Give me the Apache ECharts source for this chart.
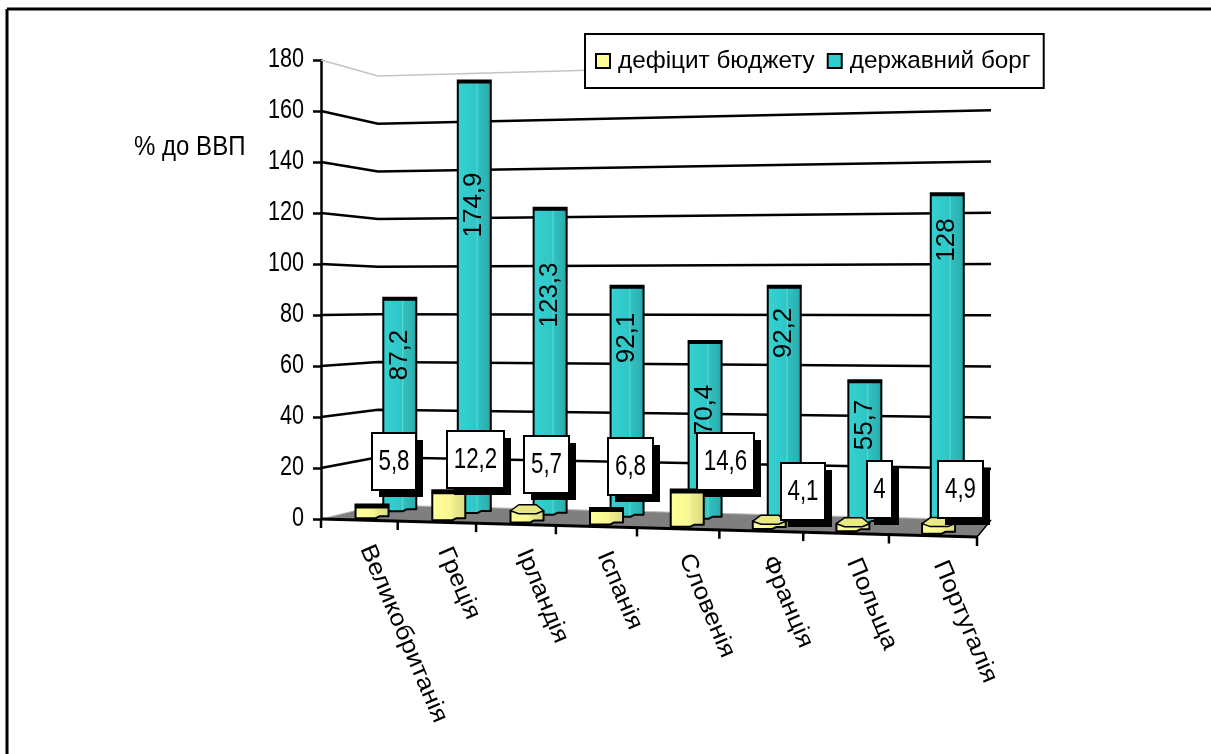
<!DOCTYPE html>
<html>
<head>
<meta charset="utf-8">
<style>html,body{margin:0;padding:0;background:#fff}#chart{width:1211px;height:754px}</style>
<script src="https://cdn.jsdelivr.net/npm/echarts@6/dist/echarts.min.js"></script>
</head>
<body>
<div id="chart"></div>
<script>
// Budget deficit and public debt by country, % of GDP
const categories = ['Великобританія', 'Греція', 'Ірландія', 'Іспанія', 'Словенія', 'Франція', 'Польща', 'Португалія'];
const deficit = [5.8, 12.2, 5.7, 6.8, 14.6, 4.1, 4, 4.9];
const debt = [87.2, 174.9, 123.3, 92.1, 70.4, 92.2, 55.7, 128];
const wallTicks = [0, 20, 40, 60, 80, 100, 120, 140, 160, 180];
const deficitName = 'дефіцит бюджету';
const debtName = 'державний борг';

// Hand-placed data label layout
const deficitBoxes = [[372, 433, 44], [447, 431, 57], [524, 436, 45], [608, 438, 45], [697, 433, 57], [781, 463, 44], [867, 461, 25], [938, 461, 45]];
const debtLabelY = [355, 205, 295, 338, 410, 333, 425, 240];

const FONT = '"Liberation Sans",Arial,sans-serif';
const GRID = { left: 321, top: 60, width: 656, height: 459 };

// Floor quad corners in screen space: front-left, front-right, back-right, back-left
const Q = [[321, 519], [977, 537], [991, 520], [378, 505]];
// Vertical scale at the same corners, relative to the value axis
const S = [1, 1.055, 1.004, 0.9345];

const hom = (() => {
  const sx = Q[0][0] - Q[1][0] + Q[2][0] - Q[3][0], sy = Q[0][1] - Q[1][1] + Q[2][1] - Q[3][1];
  const dx1 = Q[1][0] - Q[2][0], dx2 = Q[3][0] - Q[2][0], dy1 = Q[1][1] - Q[2][1], dy2 = Q[3][1] - Q[2][1];
  const det = dx1 * dy2 - dx2 * dy1;
  const g = (sx * dy2 - dx2 * sy) / det, h = (dx1 * sy - sx * dy1) / det;
  return {
    a: Q[1][0] - Q[0][0] + g * Q[1][0], b: Q[3][0] - Q[0][0] + h * Q[3][0], c: Q[0][0],
    d: Q[1][1] - Q[0][1] + g * Q[1][1], e: Q[3][1] - Q[0][1] + h * Q[3][1], f: Q[0][1], g, h
  };
})();

// Maps a floor position (u across, d into depth) and an axis pixel height to the screen
function project(u, d, axisPx) {
  const w = hom.g * u + hom.h * d + 1;
  const x = (hom.a * u + hom.b * d + hom.c) / w + 7.5 * Math.sin(Math.PI * u);
  const y = (hom.d * u + hom.e * d + hom.f) / w;
  const s = (1 - u) * (1 - d) * S[0] + u * (1 - d) * S[1] + u * d * S[2] + (1 - u) * d * S[3];
  return [x, y - axisPx * s];
}
const axisU = (api, i) => (api.coord([i, 0])[0] - GRID.left) / GRID.width;
const axisPx = (api, i, v) => api.coord([i, 0])[1] - api.coord([i, v])[1];
const nudged = u => u + 0.005 + 0.005 * (1 - u);

function gradient(stops) {
  return { type: 'linear', x: 0, y: 0, x2: 1, y2: 0, colorStops: stops.map(s => ({ offset: s[0], color: s[1] })) };
}
const tealFace = gradient([[0, '#36D2D2'], [0.55, '#2FC6C6'], [0.58, '#5FD2D2'], [0.62, '#2EC0C0'], [0.84, '#2DB4B4'], [1, '#2AA0A0']]);
const yellowFace = gradient([[0, '#FFFF99'], [0.55, '#F8F893'], [0.6, '#EFEF90'], [1, '#DADA7C']]);

// One column: front face with a stepped foot and either a dark band or a visible top
function column(center, base, top, half, face, openTop, capH) {
  const l = center - half, r = center + half, w = r - l;
  const t = openTop ? top + capH * 0.5 : top + capH;
  const body = { type: 'polygon',
    shape: { points: [[l, t], [r, t], [r, base - 2], [l + w * 0.72, base - 2], [l + w * 0.6, base], [l, base]] },
    style: { fill: face, stroke: '#000', lineWidth: 2, lineJoin: 'round' } };
  const cap = openTop
    ? { type: 'polygon',
        shape: { points: [[l, t], [l + w * 0.25, top - capH * 0.5], [l + w * 0.78, top - capH * 0.5], [r, t], [l + w * 0.78, t + capH * 0.5], [l + w * 0.25, t + capH * 0.5]] },
        style: { fill: '#E8E884', stroke: '#000', lineWidth: 1.5, lineJoin: 'round' } }
    : { type: 'rect', shape: { x: l - 1, y: top, width: w + 2, height: capH }, style: { fill: '#000' } };
  return [body, cap];
}

const option = {
  animation: false,
  backgroundColor: '#fff',
  textStyle: { fontFamily: FONT },
  grid: { left: GRID.left, top: GRID.top, width: GRID.width, height: GRID.height, containLabel: false },
  xAxis: { type: 'category', data: categories, show: false },
  yAxis: {
    type: 'value', min: 0, max: 180, interval: 20,
    axisLine: { show: true, lineStyle: { color: '#000', width: 2.5 } },
    axisTick: { show: true, length: 8, lineStyle: { color: '#000', width: 2.5 } },
    axisLabel: { show: false },
    splitLine: { show: false }
  },
  legend: {
    left: 585, top: 34, orient: 'horizontal', z: 20,
    backgroundColor: '#fff', borderColor: '#000', borderWidth: 2, borderRadius: 0,
    padding: [12, 13, 12, 10], itemGap: 12, itemWidth: 14, itemHeight: 14,
    textStyle: { color: '#000', fontFamily: FONT, fontSize: 24.3, lineHeight: 28, padding: [2, 0, 0, 3] },
    selectedMode: false,
    data: [
      { name: deficitName, icon: 'rect', itemStyle: { color: '#FFFF99', borderColor: '#000', borderWidth: 2 } },
      { name: debtName, icon: 'rect', itemStyle: { color: '#33CCCC', borderColor: '#000', borderWidth: 2 } }
    ]
  },
  graphic: [
    { type: 'line', shape: { x1: 7, y1: 9, x2: 1211, y2: 9 }, style: { stroke: '#000', lineWidth: 3 } },
    { type: 'line', shape: { x1: 7, y1: 9, x2: 7, y2: 754 }, style: { stroke: '#000', lineWidth: 3 } },
    { type: 'text', x: 134, y: 148, scaleX: 0.89, style: { text: '% до ВВП', fill: '#000', font: '27px ' + FONT, verticalAlign: 'middle' } }
  ],
  series: [
    {
      // Walls, floor and value-axis numbers
      name: 'walls', type: 'custom', coordinateSystem: 'cartesian2d', silent: true, z: 1,
      data: wallTicks.map(v => [0, v]),
      renderItem(params, api) {
        const v = api.value(1), px = api.coord([0, 0])[1] - api.coord([0, v])[1];
        const a = project(0, 0, px), b = project(0, 1, px), c = project(1, 1, px);
        const tickText = { type: 'text', x: 304, y: a[1], scaleX: 0.8,
          style: { text: String(v), fill: '#000', font: '27px ' + FONT, align: 'right', verticalAlign: 'middle' } };
        if (v === 0) {
          const f = project(1, 0, 0);
          return { type: 'group', children: [
            { type: 'polygon', shape: { points: [a, b, c, f] }, style: { fill: '#7F7F7F', stroke: null } },
            { type: 'line', shape: { x1: a[0], y1: a[1], x2: b[0], y2: b[1] }, style: { stroke: '#BBB', lineWidth: 1 } },
            { type: 'line', shape: { x1: b[0], y1: b[1], x2: c[0], y2: c[1] }, style: { stroke: '#BBB', lineWidth: 1 } },
            { type: 'line', shape: { x1: a[0], y1: a[1], x2: f[0], y2: f[1] }, style: { stroke: '#000', lineWidth: 3 } },
            { type: 'line', shape: { x1: f[0], y1: f[1], x2: c[0], y2: c[1] }, style: { stroke: '#000', lineWidth: 1.5 } },
            tickText
          ] };
        }
        const top = v === 180;
        return { type: 'group', children: [
          { type: 'polyline', shape: { points: [a, b, c] }, style: { stroke: top ? '#C4C4C4' : '#000', lineWidth: top ? 1.5 : 2.5, fill: null } },
          tickText
        ] };
      }
    },
    {
      // Category ticks and rotated names along the front edge of the floor
      name: 'front', type: 'custom', coordinateSystem: 'cartesian2d', silent: true, z: 2,
      data: categories.map((c, i) => [i, 0]),
      renderItem(params, api) {
        const i = api.value(0), u = axisU(api, i), band = 1 / categories.length;
        const tick = (uu) => {
          const p = project(uu, 0, 0);
          return { type: 'line', shape: { x1: p[0], y1: p[1], x2: p[0], y2: p[1] + 9 }, style: { stroke: '#000', lineWidth: 2.5 } };
        };
        const anchor = project(u, 0, 0);
        const kids = [tick(u + band / 2),
          { type: 'text', x: anchor[0] + 7, y: anchor[1] + 26, rotation: -67 * Math.PI / 180, scaleY: 0.92,
            style: { text: categories[i], fill: '#000', font: '26px ' + FONT, align: 'left', verticalAlign: 'middle' } }];
        if (i === 0) kids.push(tick(0));
        return { type: 'group', children: kids };
      }
    },
    {
      name: debtName, type: 'custom', coordinateSystem: 'cartesian2d', z: 3,
      itemStyle: { color: '#33CCCC' },
      data: debt.map((v, i) => [i, v]),
      renderItem(params, api) {
        const i = api.value(0), v = api.value(1), u = nudged(axisU(api, i));
        const base = project(u, 0.62, 0), top = project(u, 0.62, axisPx(api, i, v));
        return { type: 'group', children: column(base[0], base[1], top[1], 16.5, tealFace, false, 3).concat([
          { type: 'text', x: base[0], y: debtLabelY[i], rotation: Math.PI / 2,
            style: { text: String(v).replace('.', ','), fill: '#000', font: '26px ' + FONT, align: 'center', verticalAlign: 'middle' } }
        ]) };
      }
    },
    {
      name: deficitName, type: 'custom', coordinateSystem: 'cartesian2d', z: 4,
      itemStyle: { color: '#FFFF99' },
      data: deficit.map((v, i) => [i, v]),
      renderItem(params, api) {
        const i = api.value(0), v = api.value(1), u = nudged(axisU(api, i));
        const base = project(u, 0.12, 0), top = project(u, 0.12, axisPx(api, i, v));
        const open = v < 5.8;
        return { type: 'group', children: column(base[0], base[1], top[1], 16.5, yellowFace, open, open ? 6 : 4) };
      }
    },
    {
      // Value boxes for the deficit series sit on top of every column
      name: 'deficit-labels', type: 'custom', coordinateSystem: 'cartesian2d', silent: true, z: 5,
      data: deficit.map((v, i) => [i, v]),
      renderItem(params, api) {
        const i = api.value(0), b = deficitBoxes[i];
        return { type: 'group', children: [
          { type: 'rect', shape: { x: b[0] + 7, y: b[1] + 7, width: b[2], height: 57 }, style: { fill: '#000' } },
          { type: 'rect', shape: { x: b[0], y: b[1], width: b[2], height: 57 }, style: { fill: '#fff', stroke: '#000', lineWidth: 2 } },
          { type: 'text', x: b[0] + b[2] / 2, y: b[1] + 29, scaleX: 0.77,
            style: { text: String(api.value(1)).replace('.', ','), fill: '#000', font: '29px ' + FONT, align: 'center', verticalAlign: 'middle' } }
        ] };
      }
    }
  ]
};
echarts.init(document.getElementById('chart')).setOption(option);
</script>
</body>
</html>
